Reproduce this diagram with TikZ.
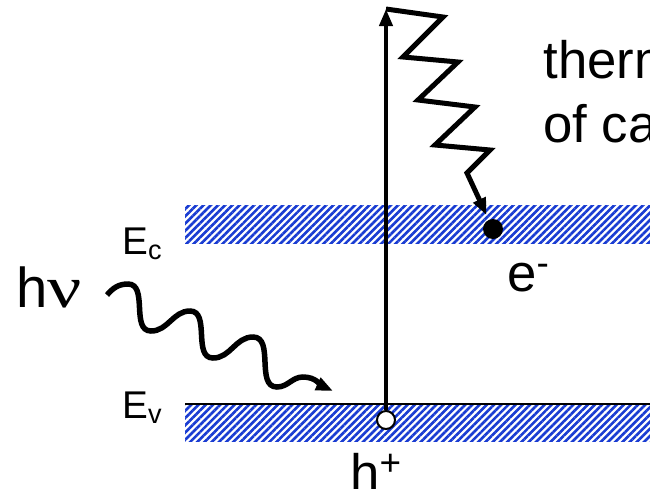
\documentclass[tikz,border=0pt]{standalone}
\usepackage{fontspec}
\setmainfont{Liberation Sans}
\newfontfamily\greekfont{Liberation Serif}
\usetikzlibrary{arrows.meta,patterns.meta}
\definecolor{bandblue}{RGB}{25,60,210}

\begin{document}
\begin{tikzpicture}[x=0.02cm,y=-0.02cm,>={Triangle[length=0.34cm,width=0.26cm]},
  band/.style={pattern={Lines[angle=45,distance=2.9pt,line width=1.5pt]},pattern color=bandblue},
  txt/.style={inner sep=0,anchor=base west},
  stroke/.style={line width=0.09cm}]
\useasboundingbox (0,0) rectangle (650,488);
% bands
\fill[band] (185,205) rectangle (650,243);
\fill[band] (185,404) rectangle (650,441);
\draw[line width=0.05cm] (185,404) -- (650,404);
% carriers
\node[circle,fill=black,minimum size=0.4cm,inner sep=0] (elec) at (493,229) {};
\node[circle,draw,fill=white,line width=0.04cm,minimum size=0.36cm,inner sep=0] (hole) at (386,420) {};
\coordinate (top) at (386,9);
\draw[stroke,line width=0.08cm,->] (hole) -- (top);
\draw[stroke,line width=0.1cm,->,line join=miter,shorten >=0.1cm] (top) -- (443,17) -- (403,57) -- (458,62) -- (418,100)
  -- (475,107) -- (435,145) -- (490,150) -- (467,173) -- (elec);
% photon
\coordinate (wstart) at (107,295);
\coordinate (wend) at (333,391);
\draw[stroke,line width=0.11cm,->] (wstart) to[out=50,in=180] (128,284) to[out=0,in=180] (151,331)
  to[out=0,in=180] (190,311) to[out=0,in=180] (213,358) to[out=0,in=180] (253,337)
  to[out=0,in=180] (277,387) to[out=0,in=180] (303,377) to[out=0,in=155] (wend);
% labels
\node[txt,font=\fontsize{32}{38}\selectfont] (hnu) at (16,307) {h{\greekfont\scalebox{1.35}[1.05]{ν}}};
\node[txt,font=\fontsize{22}{26}\selectfont] (ec) at (122,254) {E\textsubscript{c}};
\node[txt,font=\fontsize{22}{26}\selectfont] (ev) at (122,418) {E\textsubscript{v}};
\node[txt,font=\fontsize{30}{36}\selectfont] (elab) at (507,291) {e\textsuperscript{-}};
\node[txt,font=\fontsize{30}{36}\selectfont] (hlab) at (350,491) {h\textsuperscript{+}};
\node[txt,font=\fontsize{30}{36}\selectfont] (therm) at (543,78) {therm};
\node[txt,font=\fontsize{30}{36}\selectfont] (carr) at (543,142) {of ca};
\end{tikzpicture}
\end{document}
